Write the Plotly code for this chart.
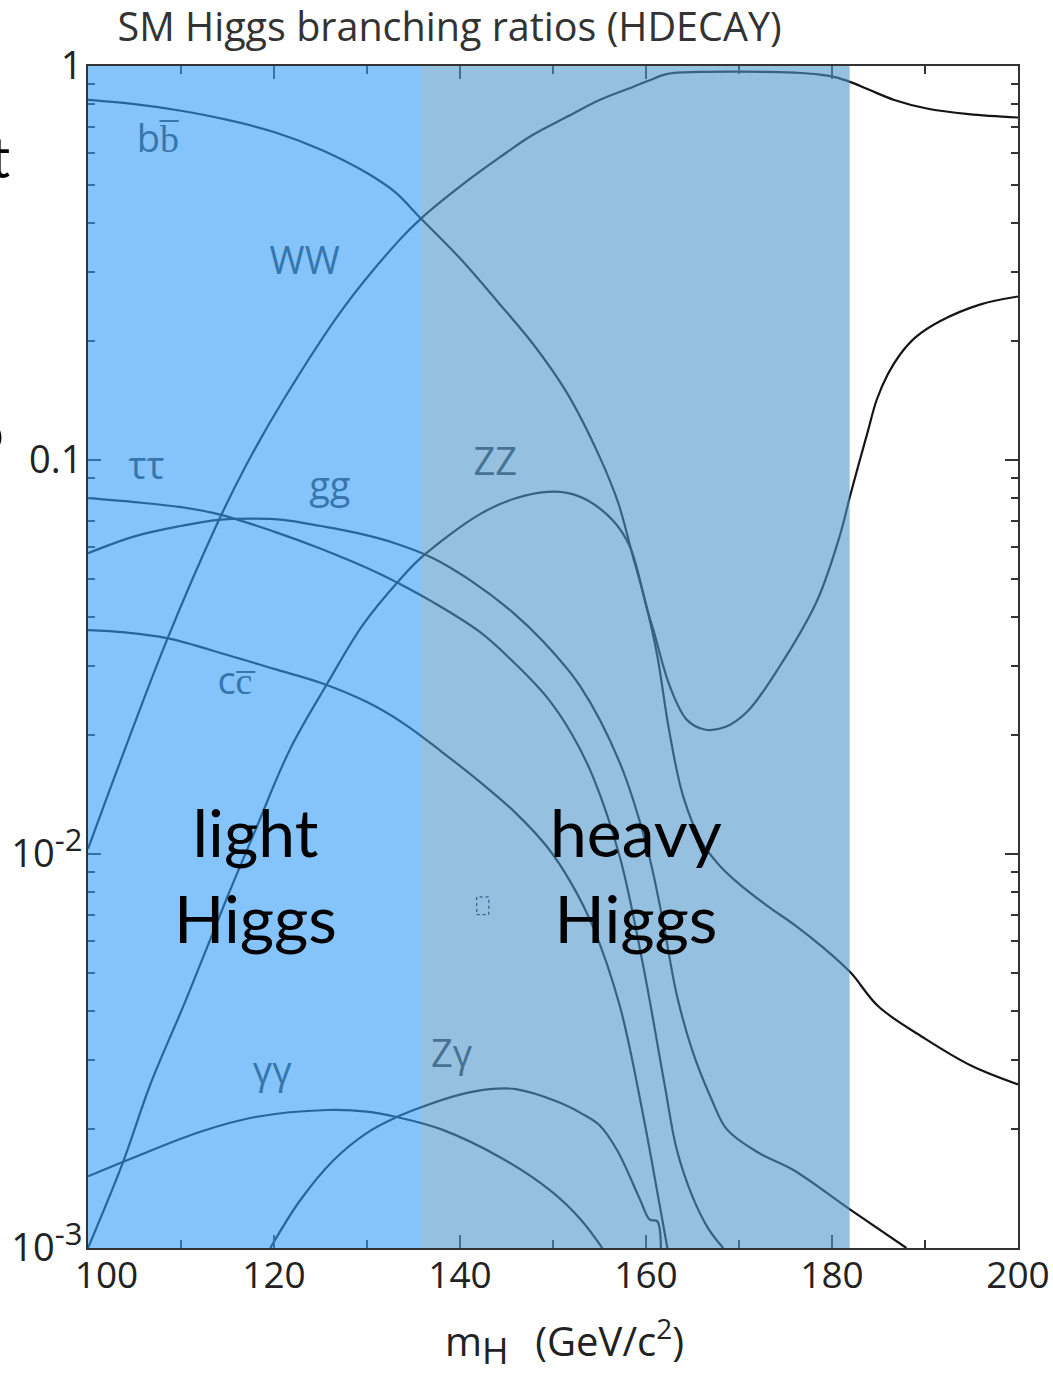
import plotly.graph_objects as go

# Standard Model Higgs branching ratios (HDECAY) versus Higgs mass
m_bb = [100, 105, 110, 115, 120, 125, 130, 133, 135.8, 140, 144, 148, 151.5, 155, 157, 158.5,
        160, 161.2, 162.5, 164, 166, 168, 170, 173, 176, 179, 182, 185, 190, 195, 200]
br_bb = [0.82, 0.80, 0.77, 0.73, 0.68, 0.614, 0.535, 0.479, 0.41, 0.325, 0.253, 0.195, 0.148, 0.102, 0.078, 0.058,
         0.043, 0.032, 0.0205, 0.0140, 0.0107, 0.0093, 0.0084, 0.0074, 0.0066, 0.0058, 0.0050, 0.0041, 0.0034, 0.0029, 0.0026]

m_ww = [100, 103.8, 108.5, 113.9, 117, 121, 127.4, 133.5, 135.8, 140.5, 144.3, 147.8, 151.5, 155, 158.6,
        160.4, 162.3, 165.8, 170, 173, 176.6, 178.5, 180.3, 182, 184, 186.7, 190.2, 194.7, 200]
br_ww = [0.0103, 0.018, 0.0350, 0.069, 0.097, 0.142, 0.242, 0.362, 0.41, 0.505, 0.587, 0.668, 0.743, 0.82, 0.885,
         0.92, 0.955, 0.966, 0.968, 0.966, 0.96, 0.952, 0.937, 0.91, 0.87, 0.82, 0.78, 0.755, 0.74]

m_zz = [100, 103.8, 106.7, 110.6, 115, 118, 121.7, 125.7, 129.5, 133.5, 136, 142.2, 146, 149.4, 151.5, 153.7,
        156.5, 158.3, 160.1, 160.8, 162.6, 164.4, 166.3, 168.5, 170.9, 174.4, 178.4, 180.9, 182, 183.8, 184.8,
        186, 187.3, 189, 191.6, 195.9, 200]
br_zz = [0.001, 0.00166, 0.0026, 0.0043, 0.0078, 0.0115, 0.0184, 0.027, 0.038, 0.0496, 0.057, 0.073, 0.080, 0.083, 0.0825, 0.079,
         0.070, 0.060, 0.042, 0.037, 0.0265, 0.0219, 0.0207, 0.0210, 0.023, 0.030, 0.044, 0.065, 0.082, 0.117, 0.142,
         0.165, 0.185, 0.205, 0.225, 0.248, 0.26]

m_tautau = [100, 105, 110, 114.2, 120, 124.9, 131.4, 133.5, 137, 142.2, 146, 149.4, 152, 154.3, 157.2, 159.7,
            162, 163.3, 165, 166.7, 168.3]
br_tautau = [0.080, 0.0782, 0.0759, 0.0727, 0.0658, 0.0597, 0.0514, 0.0485, 0.0437, 0.0365, 0.0303, 0.0249, 0.0202, 0.0157,
             0.0098, 0.0052, 0.0026, 0.00178, 0.00135, 0.00112, 0.001]

m_gg = [100, 105, 110, 114, 117.4, 121, 125, 129, 133, 137, 141, 145.7, 149, 152.9, 157.2, 160.1, 161.8,
        163.3, 165, 167, 168.7, 172, 175.8, 182, 188]
br_gg = [0.058, 0.064, 0.068, 0.0705, 0.071, 0.0705, 0.068, 0.0652, 0.0615, 0.0565, 0.0497, 0.041, 0.0345, 0.0267, 0.017, 0.0104,
         0.0068, 0.0044, 0.00316, 0.0024, 0.0020, 0.00175, 0.00158, 0.00125, 0.001]

m_cc = [100, 104, 108.5, 115, 120, 125, 130, 134, 138, 142.2, 146, 149.4, 152, 154.3, 157.2, 159.7, 161, 162.3]
br_cc = [0.037, 0.0365, 0.0353, 0.032, 0.0295, 0.0272, 0.0243, 0.0214, 0.0182, 0.0152, 0.0127, 0.0104, 0.0084, 0.00653,
         0.0041, 0.00217, 0.00148, 0.001]

m_aa = [100, 105, 112, 118, 125.7, 130, 133.2, 138, 144.3, 149.7, 153, 155.3]
br_aa = [0.00152, 0.0017, 0.00197, 0.00215, 0.00224, 0.00222, 0.00215, 0.0020, 0.0017, 0.0014, 0.00118, 0.001]

m_za = [119.6, 122.8, 126.4, 130, 133.2, 135.9, 140, 143.2, 146, 150.5, 153, 155, 156.9, 159.4, 160.4, 161.2, 161.6]
br_za = [0.001, 0.00132, 0.00167, 0.00196, 0.00215, 0.00228, 0.00245, 0.00253, 0.00253, 0.00235, 0.0022, 0.00205, 0.00177,
         0.00132, 0.00118, 0.00117, 0.001]

channels = [
    ("bb", m_bb, br_bb), ("WW", m_ww, br_ww), ("ZZ", m_zz, br_zz), ("tautau", m_tautau, br_tautau),
    ("gg", m_gg, br_gg), ("cc", m_cc, br_cc), ("gamgam", m_aa, br_aa), ("Zgam", m_za, br_za),
]

# channel labels and where they sit (mass, BR)
label_text = ["b<span>b\u0305</span>", "WW", "\u03c4\u03c4", "gg", "c<span>c\u0305</span>", "ZZ", "\u03b3\u03b3", "Z\u03b3"]
label_m = [107.5, 123.3, 106.3, 126.0, 115.8, 143.8, 119.8, 139.1]
label_br = [0.64, 0.313, 0.0944, 0.084, 0.0269, 0.097, 0.00275, 0.00305]

# mass windows: light and heavy Higgs
light_window = (100, 135.8)
heavy_window = (135.8, 181.9)

x_ticks = [100, 120, 140, 160, 180, 200]
x_ticktext = ["\u2002\u2002100", "120", "140", "160", "180", "200"]
y_ticks = [0.001, 0.01, 0.1, 1]
y_ticktext = ["10<sup><span style='font-size:31px'>-3</span></sup>",
              "10<sup><span style='font-size:31px'>-2</span></sup>", "0.1", "1"]

LINE = "#151515"
AXIS = "#333333"
FONT = "Open Sans"

fig = go.Figure()
for name, xs, ys in channels:
    fig.add_trace(go.Scatter(x=xs, y=ys, mode="lines", name=name,
                             line=dict(color=LINE, width=2.2, shape="spline", smoothing=1.0),
                             showlegend=False, hoverinfo="skip"))

fig.add_trace(go.Scatter(x=label_m, y=label_br, mode="text", text=label_text,
                         textfont=dict(family=FONT, size=38, color="#3c3c3c"),
                         showlegend=False, hoverinfo="skip"))

# translucent blue windows laid over the curves
fig.add_shape(type="rect", xref="x", yref="paper", x0=light_window[0], x1=light_window[1], y0=0, y1=1,
              fillcolor="rgba(50,157,247,0.6)", line=dict(width=0), layer="above")
fig.add_shape(type="rect", xref="x", yref="paper", x0=heavy_window[0], x1=heavy_window[1], y0=0, y1=1,
              fillcolor="rgba(80,150,203,0.6)", line=dict(width=0), layer="above")

# small dotted placeholder box
fig.add_shape(type="rect", xref="x", yref="paper", x0=141.8, x1=143.1, y0=0.282, y1=0.297,
              line=dict(color="#1f4a78", width=1, dash="dot"), layer="above")

big = dict(family="Lato", size=66, color="black")
fig.add_annotation(x=118.0, y=0.316, xref="x", yref="paper", text="light<br>Higgs", yanchor="middle",
                   showarrow=False, font=big, align="center")
fig.add_annotation(x=158.9, y=0.316, xref="x", yref="paper", text="heavy<br>Higgs", yanchor="middle",
                   showarrow=False, font=big, align="center")

# fragments of surrounding slide text at the left edge
frag = dict(family="Lato", size=56, color="black")
fig.add_annotation(x=-0.0817, y=0.9235, xref="paper", yref="paper", text="t", xanchor="right", yanchor="middle",
                   showarrow=False, font=frag)
fig.add_annotation(x=-0.088, y=0.692, xref="paper", yref="paper", text="o", xanchor="right", yanchor="middle",
                   showarrow=False, font=frag)

# x-axis title
fig.add_annotation(x=0.512, y=-0.0795, xref="paper", yref="paper", xanchor="center", yanchor="middle",
                   text="m<sub><span style='font-size:36px'>H</span></sub>\u2002\u2009(GeV/c<sup>2</sup>)",
                   showarrow=False, font=dict(family=FONT, size=40, color="#222222"))

fig.update_layout(
    template="none",
    width=1053, height=1375,
    margin=dict(l=88, r=35, t=66, b=127),
    paper_bgcolor="white", plot_bgcolor="white",
    title=dict(text="SM Higgs branching ratios (HDECAY)", x=0.427, xanchor="center",
               xref="container", y=0.98, yref="container", yanchor="middle",
               font=dict(family=FONT, size=39.5, color="#333333")),
    xaxis=dict(range=[100, 200], tickmode="array", tickvals=x_ticks, ticktext=x_ticktext, automargin=False,
               ticks="inside", ticklen=13, tickwidth=1.5, tickcolor=AXIS, ticklabelstandoff=-6,
               minor=dict(dtick=10, ticks="inside", ticklen=8, tickwidth=1.5, tickcolor=AXIS),
               showline=True, linecolor=AXIS, linewidth=2, mirror="allticks", showgrid=False, zeroline=False,
               tickfont=dict(family=FONT, size=37, color="#222222")),
    yaxis=dict(type="log", range=[-3, 0], tickmode="array", tickvals=y_ticks, ticktext=y_ticktext, automargin=False,
               ticks="inside", ticklen=13, tickwidth=1.5, tickcolor=AXIS, ticklabelstandoff=-4,
               minor=dict(dtick="D1", ticks="inside", ticklen=7, tickwidth=1.5, tickcolor=AXIS),
               showline=True, linecolor=AXIS, linewidth=2, mirror="allticks", showgrid=False, zeroline=False,
               tickfont=dict(family=FONT, size=38, color="#222222")),
)

fig.write_html("out.html")
